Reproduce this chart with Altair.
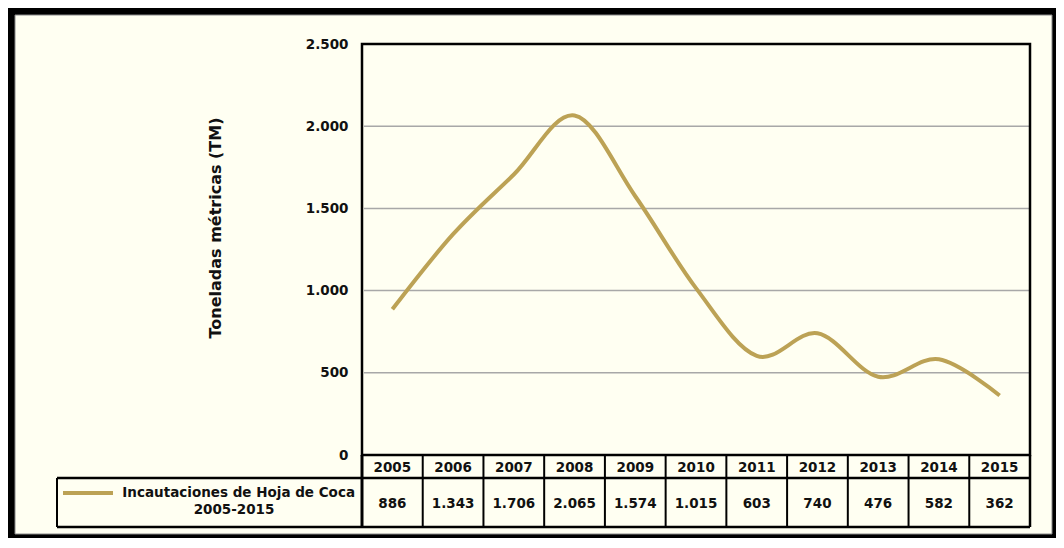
import altair as alt
import pandas as pd

# ---- data ----
years = ["2005", "2006", "2007", "2008", "2009", "2010", "2011", "2012", "2013", "2014", "2015"]
values = [886, 1343, 1706, 2065, 1574, 1015, 603, 740, 476, 582, 362]
value_labels = ["886", "1.343", "1.706", "2.065", "1.574", "1.015", "603", "740", "476", "582", "362"]
y_ticks = [0, 500, 1000, 1500, 2000, 2500]
grid_ticks = [500, 1000, 1500, 2000]
series_label = ["Incautaciones de Hoja de Coca", "2005-2015"]
axis_title = "Toneladas métricas (TM)"

df = pd.DataFrame({"year": years, "value": values, "label": value_labels})
grid_df = pd.DataFrame({"v": grid_ticks})
one = pd.DataFrame({"a": [0]})

W, H = 668, 411
ROW1 = 23   # year row height
ROW2 = 49   # value row height
LEG_X = -305

GOLD = "#BCA255"
CREAM = "#FFFFF2"
FONT = "DejaVu Sans"
FS = 13.5

xscale = alt.Scale(type="band", domain=years, paddingInner=0, paddingOuter=0)
yscale = alt.Scale(domain=[0, 2500], nice=False, zero=True)
yaxis = alt.Axis(values=y_ticks, grid=False, domain=False, ticks=False, labelPadding=14,
                 labelFont=FONT, labelFontWeight="bold", labelFontSize=FS, labelColor="#111",
                 labelExpr="replace(format(datum.value, ','), ',', '.')", title=None, zindex=1)

X_center = alt.X("year:O", scale=xscale, axis=None, bandPosition=0.5)
X_start = alt.X("year:O", scale=xscale, axis=None, bandPosition=0)

# frame
frame_black = alt.Chart(one).mark_rect(color="black").encode(
    x=alt.value(-354), x2=alt.value(694), y=alt.value(-36), y2=alt.value(494))
frame_cream = alt.Chart(one).mark_rect(fill=CREAM, stroke="#888", strokeWidth=1).encode(
    x=alt.value(-347), x2=alt.value(690), y=alt.value(-29), y2=alt.value(490))

grid = alt.Chart(grid_df).mark_rule(color="#A8A8A8", strokeWidth=1.5).encode(
    y=alt.Y("v:Q", scale=yscale, axis=yaxis), x=alt.value(2), x2=alt.value(W))

line = alt.Chart(df).mark_line(interpolate="cardinal", color=GOLD, strokeWidth=4).encode(
    x=X_center, y=alt.Y("value:Q", scale=yscale, axis=yaxis))

border = alt.Chart(one).mark_rect(filled=False, stroke="black", strokeWidth=2.5).encode(
    x=alt.value(0), x2=alt.value(W), y=alt.value(0), y2=alt.value(H))

# table lines
vlines = alt.Chart(df).mark_rule(color="black", strokeWidth=2).encode(
    x=X_start, y=alt.value(H), y2=alt.value(H + ROW1 + ROW2))
right_line = alt.Chart(one).mark_rule(color="black", strokeWidth=2.5).encode(
    x=alt.value(W), y=alt.value(H), y2=alt.value(H + ROW1 + ROW2))
left_line = alt.Chart(one).mark_rule(color="black", strokeWidth=3).encode(
    x=alt.value(0), y=alt.value(H), y2=alt.value(H + ROW1 + ROW2))
leg_left = alt.Chart(one).mark_rule(color="black", strokeWidth=2).encode(
    x=alt.value(LEG_X), y=alt.value(H + ROW1), y2=alt.value(H + ROW1 + ROW2))
hmid = alt.Chart(one).mark_rule(color="black", strokeWidth=2.5).encode(
    x=alt.value(LEG_X), x2=alt.value(W), y=alt.value(H + ROW1))
hbot = alt.Chart(one).mark_rule(color="black", strokeWidth=2.5).encode(
    x=alt.value(LEG_X), x2=alt.value(W), y=alt.value(H + ROW1 + ROW2))

year_text = alt.Chart(df).mark_text(font=FONT, fontWeight="bold", fontSize=FS, color="#111").encode(
    x=X_center, y=alt.value(H + ROW1 / 2 + 1), text="year:N")
val_text = alt.Chart(df).mark_text(font=FONT, fontWeight="bold", fontSize=FS, color="#111").encode(
    x=X_center, y=alt.value(H + ROW1 + ROW2 / 2 + 1), text="label:N")

# legend inside table
swatch = alt.Chart(one).mark_rule(color=GOLD, strokeWidth=4).encode(
    x=alt.value(LEG_X + 6), x2=alt.value(LEG_X + 56), y=alt.value(H + ROW1 + 15))
leg1 = alt.Chart(one).mark_text(font=FONT, fontWeight="bold", fontSize=FS, color="#111",
                                align="right", baseline="middle").encode(
    x=alt.value(-7), y=alt.value(H + ROW1 + 15), text=alt.value(series_label[0]))
leg2 = alt.Chart(one).mark_text(font=FONT, fontWeight="bold", fontSize=FS, color="#111",
                                align="center", baseline="middle").encode(
    x=alt.value(-128), y=alt.value(H + ROW1 + 32), text=alt.value(series_label[1]))

ytitle = alt.Chart(one).mark_text(font=FONT, fontWeight="bold", fontSize=16, color="#111",
                                  angle=270, align="center", baseline="middle").encode(
    x=alt.value(-146), y=alt.value(184), text=alt.value(axis_title))

chart = alt.layer(
    frame_black, frame_cream, grid, line, border,
    vlines, right_line, left_line, leg_left, hmid, hbot,
    year_text, val_text, swatch, leg1, leg2, ytitle
).properties(width=W, height=H, padding=0, background="white").configure_view(stroke=None)

chart.save("out.html", embed_options={"renderer": "svg", "actions": False})
